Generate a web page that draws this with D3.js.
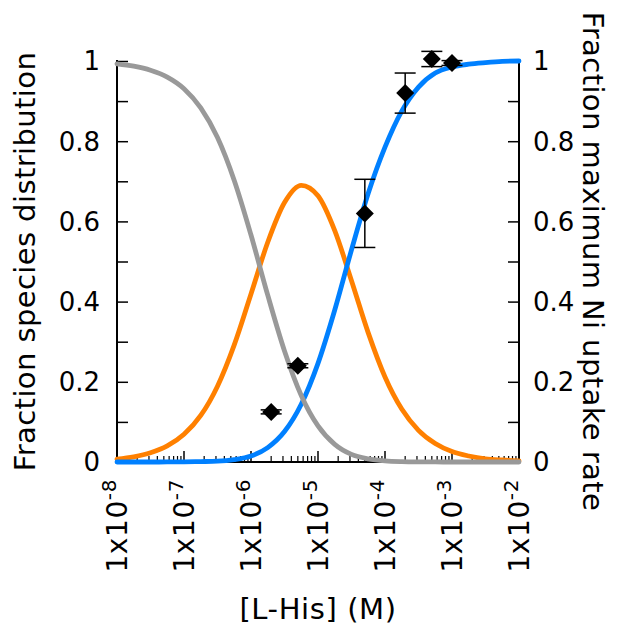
<!DOCTYPE html>
<html>
<head>
<meta charset="utf-8">
<script src="https://cdn.jsdelivr.net/npm/d3@7"></script>
<style>
  body { margin: 0; background: #fff; }
  svg text { font-family: "DejaVu Sans", Verdana, sans-serif; fill: #000; }
</style>
</head>
<body>
<div id="plot"></div>
<script>
// concentration grid (log10 of [L-His], M) used for the species curves
var logConc = [-8, -7.75, -7.5, -7.25, -7, -6.75, -6.5, -6.25, -6, -5.75, -5.5, -5.25,
               -5, -4.75, -4.5, -4.25, -4, -3.75, -3.5, -3.25, -3, -2.75, -2.5, -2.25, -2];

// species fractions
var freeNi = [0.993, 0.987, 0.977, 0.960, 0.931, 0.883, 0.809, 0.702, 0.566, 0.416, 0.277, 0.166,
              0.090, 0.044, 0.019, 0.008, 0.003, 0.001, 0.0003, 0.0001, 0, 0, 0, 0, 0];
var niHis = [0.007, 0.013, 0.023, 0.040, 0.069, 0.116, 0.189, 0.292, 0.419, 0.548, 0.647, 0.690,
             0.664, 0.577, 0.452, 0.322, 0.212, 0.132, 0.079, 0.046, 0.026, 0.015, 0.008, 0.005, 0.003];
var niHis2 = [0, 0, 0, 0.0001, 0.0003, 0.001, 0.002, 0.006, 0.015, 0.036, 0.076, 0.144,
              0.246, 0.379, 0.529, 0.670, 0.785, 0.875, 0.935, 0.970, 0.985, 0.992, 0.996, 0.999, 1.0];

// measured uptake rate (right axis)
var uptakeConc = [2e-6, 5e-6, 5e-5, 2e-4, 5e-4, 1e-3];
var uptakeRate = [0.125, 0.24, 0.62, 0.92, 1.005, 0.995];
var uptakeErr  = [0.005, 0.005, 0.085, 0.05, 0.019, 0.006];

var xDecades = [-8, -7, -6, -5, -4, -3, -2];
var yTicks = [0, 0.2, 0.4, 0.6, 0.8, 1];

var W = 627, H = 632;
var margin = {t:61, r:108, b:170, l:117};

var svg = d3.select('#plot')
    .append('svg')
    .attr('width', W)
    .attr('height', H);

var x = d3.scaleLog()
    .domain([1e-8, 1e-2])
    .range([margin.l, W - margin.r]);

var y = d3.scaleLinear()
    .domain([0, 1])
    .range([H - margin.b, margin.t]);

var yR = d3.scaleLinear()
    .domain([0, 1])
    .range([H - margin.b, margin.t]);

var x0 = x.range()[0], x1 = x.range()[1],
    yb = y.range()[0];

// minor ticks on the log axis
var minor = [];
xDecades.slice(0, -1).forEach(function(e){
    for (var k = 2; k < 10; k++) minor.push(k * Math.pow(10, e));
});

var axes = svg.append('g').attr('class','axes');

// bottom axis line and ticks (inward)
axes.append('line')
    .attr('x1', x0 - 1).attr('x2', x1 + 1)
    .attr('y1', yb).attr('y2', yb)
    .attr('stroke','#000').attr('stroke-width',2);

axes.selectAll('.xmaj')
    .data(xDecades)
    .enter().append('line')
    .attr('x1', function(d){ return x(Math.pow(10,d)); })
    .attr('x2', function(d){ return x(Math.pow(10,d)); })
    .attr('y1', yb).attr('y2', yb - 11)
    .attr('stroke','#000').attr('stroke-width',1.5);

axes.selectAll('.xmin')
    .data(minor)
    .enter().append('line')
    .attr('x1', function(d){ return x(d); })
    .attr('x2', function(d){ return x(d); })
    .attr('y1', yb).attr('y2', yb - 6)
    .attr('stroke','#000').attr('stroke-width',1.2);

// x tick labels: 1x10^n, rotated
var xl = axes.selectAll('.xlab')
    .data(xDecades)
    .enter().append('text')
    .attr('transform', function(d){ return 'translate(' + (x(Math.pow(10,d)) + 10) + ',' + (yb + 17) + ') rotate(-90)'; })
    .attr('text-anchor','end')
    .style('font-size','28px')
    .style('letter-spacing','0.6px');
xl.append('tspan').text('1x10');
xl.append('tspan')
    .attr('dy','-0.55em')
    .style('font-size','20px')
    .text(function(d){ return String(d); });

// left and right axes
var yAxisL = d3.axisLeft(y).tickValues(d3.range(0, 1.01, 0.1)).tickSize(-11).tickFormat('');
var yAxisR = d3.axisRight(yR).tickValues(d3.range(0, 1.01, 0.1)).tickSize(-11).tickFormat('');

var gl = axes.append('g').attr('transform','translate(' + x0 + ',0)').call(yAxisL);
var gr = axes.append('g').attr('transform','translate(' + x1 + ',0)').call(yAxisR);
[gl, gr].forEach(function(g){
    g.select('.domain').attr('stroke','#000').attr('stroke-width',2)
        .attr('d', 'M0,' + (yb + 1) + 'V' + (margin.t - 1));
    g.selectAll('.tick line').attr('stroke','#000').attr('stroke-width',1.5);
});

axes.selectAll('.ylab')
    .data(yTicks)
    .enter().append('text')
    .attr('x', x0 - 17)
    .attr('y', function(d){ return y(d); })
    .attr('dy','0.36em')
    .attr('text-anchor','end')
    .style('font-size','26px')
    .text(function(d){ return d3.format('~g')(d); });

axes.selectAll('.yrlab')
    .data(yTicks)
    .enter().append('text')
    .attr('x', x1 + 14)
    .attr('y', function(d){ return yR(d); })
    .attr('dy','0.36em')
    .attr('text-anchor','start')
    .style('font-size','26px')
    .text(function(d){ return d3.format('~g')(d); });

// axis titles
svg.append('text')
    .attr('transform','translate(35,' + (margin.t + yb) / 2 + ') rotate(-90)')
    .attr('text-anchor','middle')
    .style('font-size','29px')
    .style('letter-spacing','0.4px')
    .text('Fraction species distribution');

svg.append('text')
    .attr('transform','translate(583,' + (margin.t + yb) / 2 + ') rotate(90)')
    .attr('text-anchor','middle')
    .style('font-size','29px')
    .style('letter-spacing','0.4px')
    .text('Fraction maximum Ni uptake rate');

svg.append('text')
    .attr('x', (x0 + x1) / 2)
    .attr('y', 619)
    .attr('text-anchor','middle')
    .style('font-size','29px')
    .style('letter-spacing','0.6px')
    .text('[L-His] (M)');

// species curves
var line = d3.line()
    .x(function(d){ return x(Math.pow(10, d[0])); })
    .y(function(d){ return y(d[1]); })
    .curve(d3.curveMonotoneX);

var series = [
    {name:'NiHis', values:niHis, color:'#ff8000'},
    {name:'NiHis2', values:niHis2, color:'#0080ff'},
    {name:'Ni', values:freeNi, color:'#999999'}
];

svg.selectAll('.curve')
    .data(series)
    .enter().append('path')
    .attr('class','curve')
    .attr('fill','none')
    .attr('stroke', function(d){ return d.color; })
    .attr('stroke-width',4.8)
    .attr('stroke-linecap','round')
    .attr('d', function(d){ return line(logConc.map(function(e,i){ return [e, d.values[i]]; })); });

// uptake points with error bars
var pts = uptakeConc.map(function(c,i){ return {c:c, v:uptakeRate[i], e:uptakeErr[i]}; });

var pg = svg.selectAll('.pt')
    .data(pts)
    .enter().append('g')
    .attr('class','pt')
    .attr('transform', function(d){ return 'translate(' + x(d.c) + ',0)'; });

pg.append('line')
    .attr('y1', function(d){ return yR(d.v - d.e); })
    .attr('y2', function(d){ return yR(d.v + d.e); })
    .attr('stroke','#000').attr('stroke-width',1.5);
pg.append('line')
    .attr('x1',-10.5).attr('x2',10.5)
    .attr('y1', function(d){ return yR(d.v - d.e); })
    .attr('y2', function(d){ return yR(d.v - d.e); })
    .attr('stroke','#000').attr('stroke-width',1.5);
pg.append('line')
    .attr('x1',-10.5).attr('x2',10.5)
    .attr('y1', function(d){ return yR(d.v + d.e); })
    .attr('y2', function(d){ return yR(d.v + d.e); })
    .attr('stroke','#000').attr('stroke-width',1.5);
pg.append('path')
    .attr('d', function(d){ var cy = yR(d.v), s = 9;
        return 'M0,' + (cy - s) + 'L' + s + ',' + cy + 'L0,' + (cy + s) + 'L' + (-s) + ',' + cy + 'Z'; })
    .attr('fill','#000');
</script>
</body>
</html>
